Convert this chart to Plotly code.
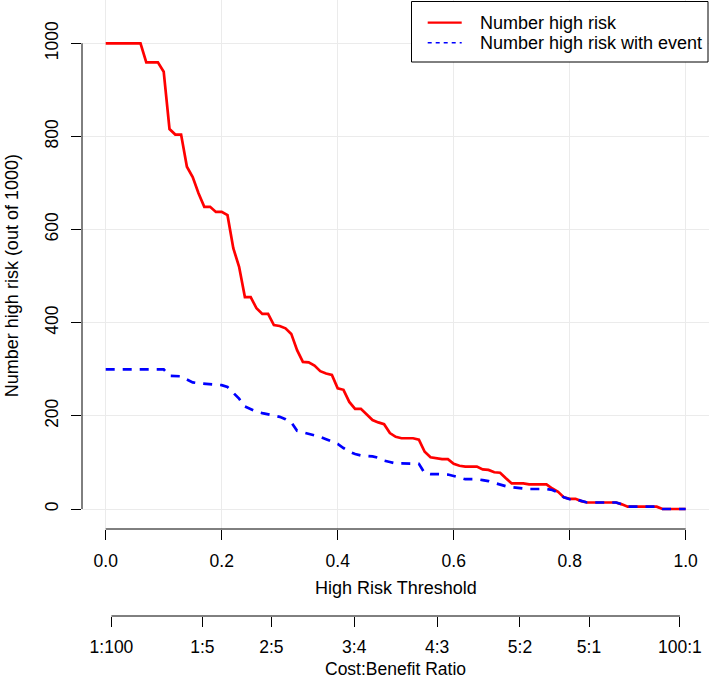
import numpy as np
import plotly.graph_objects as go

# ---- data ----
thresholds = np.round(np.linspace(0, 1, 101), 2)

n_high_risk = [
    1000, 1000, 1000, 1000, 1000, 1000, 1000, 959, 959, 959,
    939, 816, 804, 804, 735, 713, 678, 649, 649, 638,
    638, 631, 560, 520, 455, 455, 431, 419, 419, 395,
    393, 388, 376, 341, 316, 315, 308, 296, 291, 288,
    259, 256, 230, 215, 215, 202, 191, 186, 182, 163,
    155, 152, 152, 152, 149, 123, 111, 109, 107, 107,
    97, 93, 91, 91, 91, 85, 84, 79, 78, 66,
    55, 55, 55, 53, 53, 53, 53, 44, 37, 25,
    22, 22, 17, 14, 14, 14, 14, 14, 14, 10,
    5, 5, 5, 5, 5, 5, 0, 0, 0, 0,
    0,
]

n_high_risk_event = [
    300, 300, 300, 300, 300, 300, 300, 300, 300, 300,
    300, 286, 286, 285, 278, 272, 270, 269, 268, 268,
    266, 262, 250, 237, 220, 214, 209, 206, 203, 201,
    198, 193, 186, 168, 165, 162, 159, 155, 150, 145,
    140, 131, 123, 118, 115, 114, 113, 110, 104, 101,
    98, 98, 98, 98, 97, 77, 75, 75, 75, 74,
    71, 67, 64, 64, 64, 62, 60, 56, 52, 49,
    47, 45, 44, 43, 43, 43, 43, 41, 35, 25,
    21, 21, 17, 14, 14, 14, 14, 14, 14, 10,
    5, 5, 5, 5, 5, 5, 0, 0, 0, 0,
    0,
]

x_ticks = [0.0, 0.2, 0.4, 0.6, 0.8, 1.0]
y_ticks = [0, 200, 400, 600, 800, 1000]
ratio_labels = ["1:100", "1:5", "2:5", "3:4", "4:3", "5:2", "5:1", "100:1"]
ratio_positions = [int(a) / (int(a) + int(b)) for a, b in (r.split(":") for r in ratio_labels)]

series_names = ["Number high risk", "Number high risk with event"]
series_colors = ["#FF0000", "#0000FF"]
series_dash = ["solid", "9px,8px"]

# ---- figure ----
FONT = "Liberation Sans, Arial, Helvetica, sans-serif"
W, H = 709, 679
ML, MR, MT, MB = 82, 0, 0, 63
plot_w = W - ML - MR
paper_h = H - MT - MB
plot_bottom_px = 529
y_dom0 = (paper_h - plot_bottom_px) / paper_h


def px_x(px):
    return (px - ML) / plot_w


def px_y(py):
    return (paper_h - py) / paper_h


fig = go.Figure()
for vals, name, col, dash in zip([n_high_risk, n_high_risk_event], series_names,
                                 series_colors, series_dash):
    fig.add_trace(go.Scatter(
        x=thresholds, y=vals, mode="lines", name=name,
        line=dict(color=col, width=2.7, dash=dash), xaxis="x", yaxis="y",
        showlegend=False,
    ))

x_range = [-0.04086, 1.0402]
y_range = [-42.9, 1093]

tick_font = dict(size=17.5, family=FONT, color="black")
fig.update_layout(
    width=W, height=H,
    margin=dict(l=ML, r=MR, t=MT, b=MB, pad=0),
    paper_bgcolor="white", plot_bgcolor="white",
    font=dict(family=FONT, size=17.5, color="black"),
    xaxis=dict(
        domain=[0, 1], range=x_range, anchor="y",
        tickvals=x_ticks, tickformat=".1f",
        ticks="outside", ticklen=10, tickwidth=1, tickcolor="black",
        showgrid=True, gridcolor="#EBEBEB", gridwidth=1.2,
        zeroline=False, showline=False, tickfont=tick_font,
        ticklabelstandoff=6,
    ),
    xaxis2=dict(
        range=x_range, overlaying="x", anchor="free", position=0, side="bottom",
        tickvals=ratio_positions, ticktext=ratio_labels,
        ticks="outside", ticklen=10, tickwidth=1, tickcolor="black",
        showgrid=False, zeroline=False, showline=False, tickfont=tick_font,
        ticklabelstandoff=5,
    ),
    yaxis=dict(
        domain=[y_dom0, 1], range=y_range, anchor="x",
        tickvals=y_ticks, tickangle=-90,
        ticks="outside", ticklen=10, tickwidth=1, tickcolor="black",
        showgrid=True, gridcolor="#EBEBEB", gridwidth=1.2,
        zeroline=False, showline=False, tickfont=tick_font,
        ticklabelstandoff=6,
    ),
    showlegend=False,
)

# invisible trace to activate xaxis2
fig.add_trace(go.Scatter(x=[x_ticks[0]], y=[y_ticks[0]], xaxis="x2", yaxis="y",
                         mode="markers", marker=dict(opacity=0), showlegend=False,
                         hoverinfo="skip"))

# axis lines spanning only the tick range (R style)
fig.add_shape(type="line", xref="paper", yref="y", x0=0, x1=0,
              y0=y_ticks[0], y1=y_ticks[-1], line=dict(color="black", width=1))
fig.add_shape(type="line", xref="x", yref="y domain", x0=x_ticks[0], x1=x_ticks[-1],
              y0=0, y1=0, line=dict(color="black", width=1))
fig.add_shape(type="line", xref="x", yref="paper", x0=ratio_positions[0], x1=ratio_positions[-1],
              y0=0, y1=0, line=dict(color="black", width=1))

# axis titles
title_font = dict(size=18, family=FONT, color="black")
fig.add_annotation(text="High Risk Threshold", xref="paper", yref="paper",
                   x=0.5, y=px_y(588), xanchor="center", yanchor="middle",
                   showarrow=False, font=title_font)
fig.add_annotation(text="Cost:Benefit Ratio", xref="paper", yref="paper",
                   x=0.5, y=px_y(668.5), xanchor="center", yanchor="middle",
                   showarrow=False, font=dict(size=17.5, family=FONT, color="black"))
fig.add_annotation(text="Number high risk (out of 1000)", xref="paper", yref="y",
                   x=px_x(12), y=500, xanchor="center", yanchor="middle",
                   textangle=-90, showarrow=False, font=title_font)

# legend box (R style)
fig.add_shape(type="rect", xref="paper", yref="paper",
              x0=px_x(411.5), x1=px_x(708), y0=px_y(62), y1=px_y(1.5),
              line=dict(color="black", width=1), fillcolor="white", layer="above")
for i, (name, col, dash) in enumerate(zip(series_names, series_colors, series_dash)):
    ly = 22.7 + 20 * i
    fig.add_shape(type="line", xref="paper", yref="paper",
                  x0=px_x(427.7), x1=px_x(461.7), y0=px_y(ly), y1=px_y(ly),
                  line=dict(color=col, width=2.2 if i == 0 else 1.4,
                            dash="solid" if i == 0 else "4px,4px"),
                  layer="above")
    fig.add_annotation(text=name, xref="paper", yref="paper",
                       x=px_x(478), y=px_y(ly), xanchor="left", yanchor="middle",
                       showarrow=False, font=title_font)

fig.write_html("out.html", config={"displayModeBar": False},
               post_script="document.body.style.margin='0';")
